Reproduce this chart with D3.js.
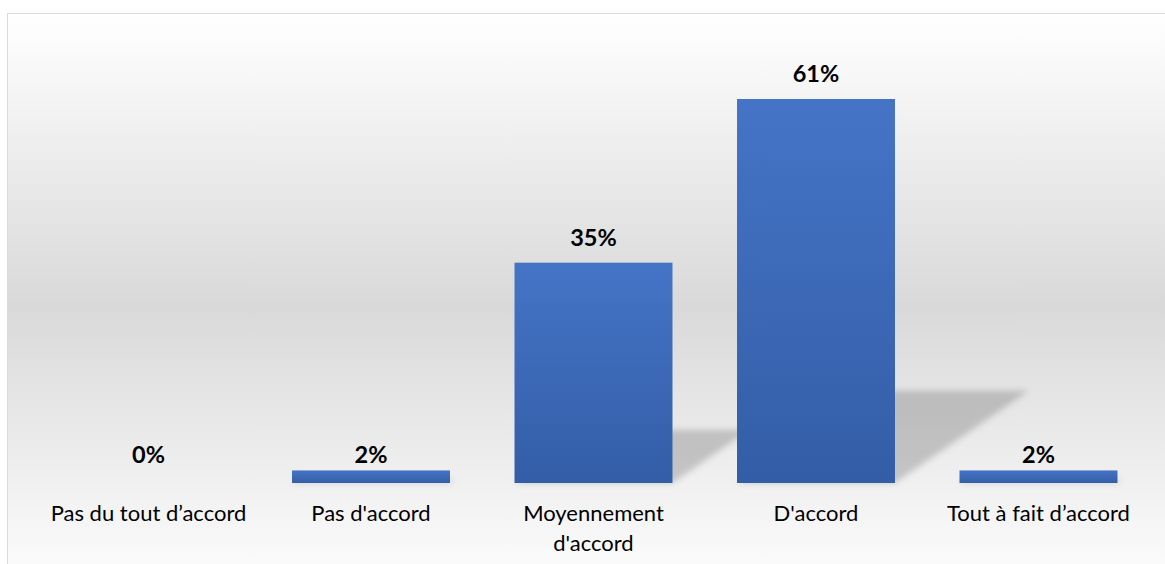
<!DOCTYPE html>
<html>
<head>
<meta charset="utf-8">
<script src="https://cdn.jsdelivr.net/npm/d3@7"></script>
<style>
  html, body { margin: 0; padding: 0; background: #ffffff; }
  svg { display: block; }
</style>
</head>
<body>
<svg id="chart" width="1165" height="564"></svg>
<script>
// Survey answers and their shares (percent)
const categories = [
  ["Pas du tout d\u2019accord"],
  ["Pas d'accord"],
  ["Moyennement", "d'accord"],
  ["D'accord"],
  ["Tout \u00e0 fait d\u2019accord"]
];
const values = [0, 2, 35, 61, 2];
const valueLabels = ["0%", "2%", "35%", "61%", "2%"];

const W = 1165, H = 564;
const svg = d3.select("#chart");
const defs = svg.append("defs");

// Chart area background: white -> light grey -> white
const bg = defs.append("linearGradient").attr("id", "bgGrad")
  .attr("x1", 0).attr("y1", 0).attr("x2", 0).attr("y2", 1);
bg.append("stop").attr("offset", 0).attr("stop-color", "#ffffff");
bg.append("stop").attr("offset", 0.5).attr("stop-color", "#d9d9d9");
bg.append("stop").attr("offset", 1).attr("stop-color", "#ffffff");

// Bar fill: lighter blue at top, deeper at the base
const bar = defs.append("linearGradient").attr("id", "barGrad")
  .attr("x1", 0).attr("y1", 0).attr("x2", 0).attr("y2", 1);
bar.append("stop").attr("offset", 0).attr("stop-color", "#4574c7");
bar.append("stop").attr("offset", 1).attr("stop-color", "#335da6");

// Soft blur for the cast shadows
defs.append("filter").attr("id", "shadowBlur")
  .attr("x", "-20%").attr("y", "-20%").attr("width", "140%").attr("height", "140%")
  .append("feGaussianBlur").attr("stdDeviation", 3);

// Frame of the chart area
svg.append("rect")
  .attr("x", 7.5).attr("y", 13.5)
  .attr("width", W + 20).attr("height", H + 20)
  .attr("fill", "url(#bgGrad)")
  .attr("stroke", "#d9d9d9").attr("stroke-width", 1);

const baseline = 483;
const x = d3.scaleBand()
  .domain(d3.range(values.length))
  .range([37.25, 1149.75])
  .paddingInner(0.29)
  .paddingOuter(0.145);
const y = d3.scaleLinear().domain([0, 61]).range([baseline, 99]);

// Perspective shadows falling to the upper right of each bar
const shadowScale = 0.24, shadowSlant = 1.45;
svg.append("g").attr("filter", "url(#shadowBlur)")
  .selectAll("path").data(values).join("path")
  .attr("d", (d, i) => {
    const x0 = x(i), x1 = x(i) + x.bandwidth();
    const hs = (baseline - y(d)) * shadowScale;
    const dx = hs * shadowSlant;
    return `M${x0},${baseline}L${x1},${baseline}L${x1 + dx},${baseline - hs}L${x0 + dx},${baseline - hs}Z`;
  })
  .attr("fill", "#000").attr("fill-opacity", 0.18);

// Bars
svg.append("g").selectAll("rect").data(values).join("rect")
  .attr("x", (d, i) => x(i))
  .attr("y", d => y(d))
  .attr("width", x.bandwidth())
  .attr("height", d => baseline - y(d))
  .attr("fill", "url(#barGrad)");

const font = "Lato, 'Open Sans', sans-serif";

// Value labels above each bar; short bars keep theirs at a fixed height
const labelY = d => (y(d) < baseline - 30 ? y(d) - 17 : baseline - 20);
svg.append("g").selectAll("text").data(values).join("text")
  .attr("x", (d, i) => x(i) + x.bandwidth() / 2)
  .attr("y", d => labelY(d))
  .attr("text-anchor", "middle")
  .attr("font-family", font)
  .attr("font-weight", 700)
  .attr("font-size", 23.5)
  .attr("fill", "#000")
  .text((d, i) => valueLabels[i]);

// Category labels under the baseline
const cat = svg.append("g").selectAll("text").data(categories).join("text")
  .attr("x", (d, i) => x(i) + x.bandwidth() / 2)
  .attr("y", 521)
  .attr("text-anchor", "middle")
  .attr("font-family", font)
  .attr("font-size", 22)
  .attr("fill", "#000");
cat.selectAll("tspan").data(d => d).join("tspan")
  .attr("x", function () { return d3.select(this.parentNode).attr("x"); })
  .attr("dy", (d, j) => j === 0 ? 0 : 30)
  .text(d => d);
</script>
</body>
</html>
